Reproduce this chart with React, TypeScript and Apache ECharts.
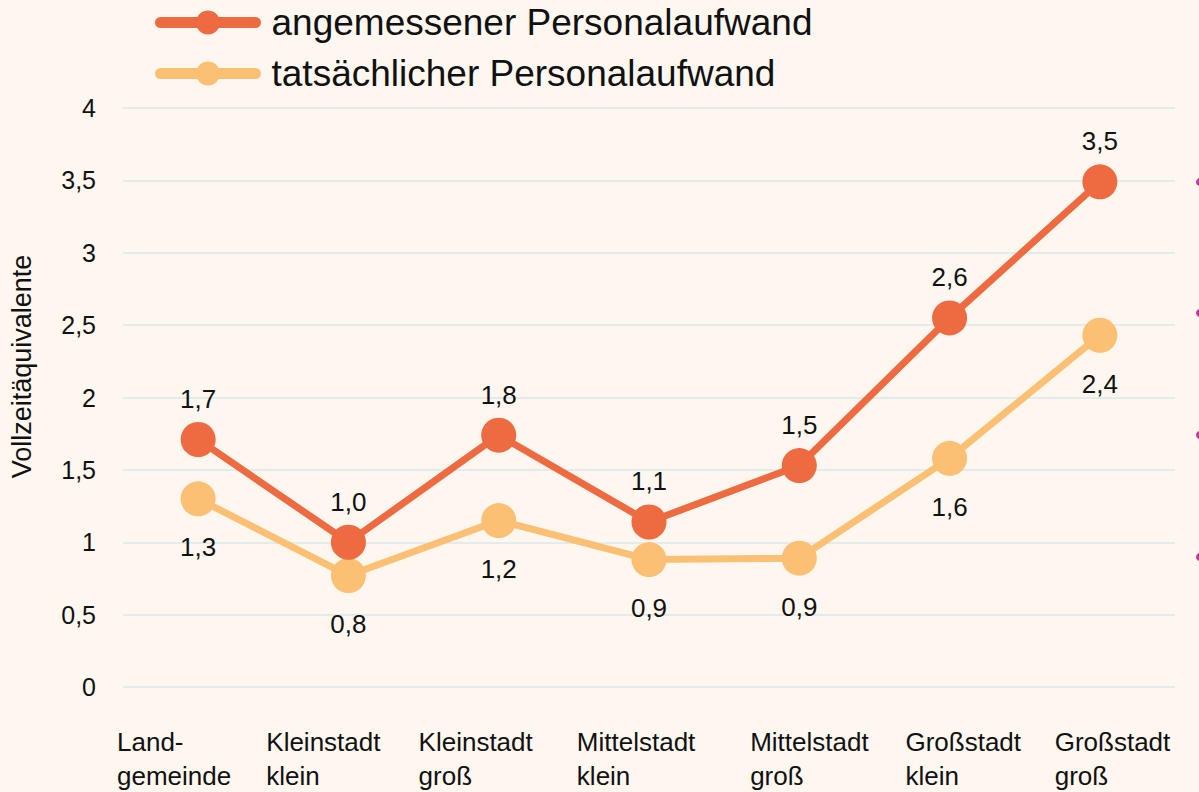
import React, { useEffect, useRef } from "react";
import * as echarts from "echarts";

const categories = [
  "Land-\ngemeinde",
  "Kleinstadt\nklein",
  "Kleinstadt\ngroß",
  "Mittelstadt\nklein",
  "Mittelstadt\ngroß",
  "Großstadt\nklein",
  "Großstadt\ngroß",
];
const seriesNames = ["angemessener Personalaufwand", "tatsächlicher Personalaufwand"];
const angemessen = [1.71, 1.0, 1.74, 1.14, 1.53, 2.55, 3.49];
const angemessenLabels = ["1,7", "1,0", "1,8", "1,1", "1,5", "2,6", "3,5"];
const tatsaechlich = [1.3, 0.77, 1.15, 0.88, 0.89, 1.58, 2.43];
const tatsaechlichLabels = ["1,3", "0,8", "1,2", "0,9", "0,9", "1,6", "2,4"];
const yTicks = { min: 0, max: 4, interval: 0.5 };

// horizontal nudges of the x-axis label blocks (style only)
const labelShift = [-6, -7, -5, 3, 26, 31, 30, 0];

const FONT = "'Liberation Sans', Arial, sans-serif";
const ORANGE = "#EE6B42";
const LIGHT = "#FBC074";

export default function App() {
  const ref = useRef<HTMLDivElement>(null);
  useEffect(() => {
    if (!ref.current) return;
    const chart = echarts.init(ref.current, null, { renderer: "svg" });
    const rich: Record<string, any> = {};
    labelShift.forEach((s, i) => {
      rich["c" + i] = {
        fontSize: 26,
        fontFamily: FONT,
        color: "#111",
        lineHeight: 34,
        padding: [0, 0, 0, s],
      };
    });
    chart.setOption({
      animation: false,
      backgroundColor: "#FEF7F0",
      textStyle: { fontFamily: FONT },
      legend: {
        orient: "vertical",
        left: 150,
        top: -1,
        itemWidth: 95,
        itemHeight: 30,
        itemGap: 14,
        data: seriesNames,
        lineStyle: { width: 11, cap: "round" },
        textStyle: {
          fontSize: 37,
          lineHeight: 36,
          color: "#111",
          fontFamily: FONT,
          padding: [0, 0, 0, 11],
        },
      },
      grid: { left: 117, right: 24, top: 108, bottom: 105 },
      xAxis: [
        {
          type: "category",
          data: categories,
          boundaryGap: true,
          axisLine: { show: false },
          axisTick: { show: false },
          axisLabel: { show: false },
          splitLine: { show: false },
        },
        {
          type: "category",
          data: [...categories, ""],
          boundaryGap: false,
          position: "bottom",
          axisLine: { show: false },
          axisTick: { show: false },
          splitLine: { show: false },
          axisLabel: {
            interval: 0,
            align: "left",
            margin: 38,
            formatter: (v: string, i: number) =>
              v
                .split("\n")
                .map((l) => `{c${i}|${l}}`)
                .join("\n"),
            rich,
          },
        },
      ],
      yAxis: {
        type: "value",
        min: yTicks.min,
        max: yTicks.max,
        interval: yTicks.interval,
        name: "Vollzeitäquivalente",
        nameLocation: "middle",
        nameGap: 88,
        nameTextStyle: { fontSize: 27, color: "#111", fontFamily: FONT, padding: [0, 0, 0, 62] },
        axisLine: { show: false },
        axisTick: { show: false },
        axisLabel: {
          fontSize: 25,
          color: "#111",
          margin: 27,
          formatter: (v: number) => String(v).replace(".", ","),
        },
        splitLine: { lineStyle: { color: "#E2ECEA", width: 2 } },
      },
      series: [
        {
          name: seriesNames[0],
          type: "line",
          xAxisIndex: 0,
          data: angemessen,
          symbol: "circle",
          symbolSize: 35,
          lineStyle: { color: ORANGE, width: 7 },
          itemStyle: { color: ORANGE },
          label: {
            show: true,
            position: "top",
            distance: 10,
            fontSize: 26,
            color: "#111",
            fontFamily: FONT,
            formatter: (p: any) => angemessenLabels[p.dataIndex],
          },
          z: 3,
        },
        {
          name: seriesNames[1],
          type: "line",
          xAxisIndex: 0,
          data: tatsaechlich,
          symbol: "circle",
          symbolSize: 35,
          lineStyle: { color: LIGHT, width: 7 },
          itemStyle: { color: LIGHT },
          label: {
            show: true,
            position: "bottom",
            distance: 18,
            fontSize: 26,
            color: "#111",
            fontFamily: FONT,
            formatter: (p: any) => tatsaechlichLabels[p.dataIndex],
          },
          z: 2,
        },
      ],
      graphic: [182, 313, 435, 557].map((y) => ({
        type: "circle",
        shape: { cx: 1200, cy: y, r: 4 },
        style: { fill: "#C0399B" },
        silent: true,
      })),
    });
    return () => chart.dispose();
  }, []);
  return (
    <div
      ref={ref}
      style={{ position: "fixed", left: 0, top: 0, width: 1199, height: 792 }}
    />
  );
}
